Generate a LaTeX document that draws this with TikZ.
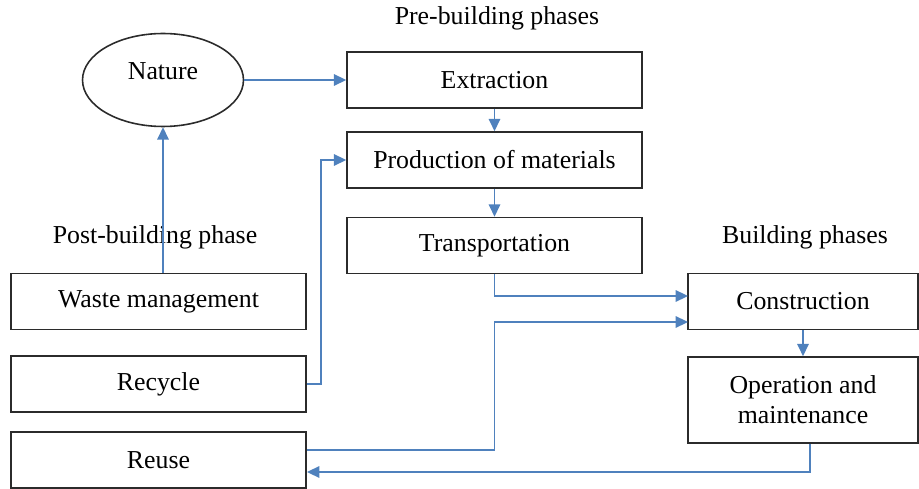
\documentclass[tikz,border=0pt]{standalone}
\usepackage{fontspec}
\setmainfont{Liberation Serif}
\usetikzlibrary{arrows.meta,positioning,shapes.geometric,calc}
\definecolor{flow}{HTML}{4F81BD}
\definecolor{edge}{HTML}{2B2B2B}

\begin{document}
\begin{tikzpicture}[x=0.02cm, y=-0.02cm,
		phase/.style={rectangle, draw=edge, line width=0.9pt,
				minimum width=5.9cm, minimum height=1.12cm,
				font=\fontsize{14.7}{17}\selectfont, align=center,
				inner sep=2pt},
		bphase/.style={phase, minimum width=4.6cm},
		oval/.style={ellipse, draw=edge, line width=0.9pt,
				minimum width=3.22cm, minimum height=1.86cm},
		hdr/.style={font=\fontsize{14.7}{17}\selectfont, align=center},
		arr/.style={-{Triangle[length=7pt, width=6.5pt]}, line width=1pt, flow},
		]
		\useasboundingbox (0,0) rectangle (919,489);

		% ---- Titulos ----
		\node[hdr] (pretitle) at (497, 18) {Pre-building phases};
		\node[hdr] (posttitle) at (155, 237) {Post-building phase};
		\node[hdr] (buildtitle) at (805, 237) {Building phases};

		% ---- Pre-building ----
		\node[oval, label={[hdr, yshift=5pt]center:Nature}] (nature) at (163, 80) {};
		\node[phase] (extr) at (494.5, 80) {Extraction};
		\node[phase] (prod) at (494.5, 160) {Production of materials};
		\node[phase] (trans) at (494.5, 245.5) {Transportation};

		% ---- Post-building ----
		\node[phase] (waste) at (158.5, 301.5) {Waste management};
		\node[phase] (recyc) at (158.5, 384) {Recycle};
		\node[phase] (reuse) at (158.5, 460) {Reuse};

		% ---- Building ----
		\node[bphase] (constr) at (803, 301.5) {Construction};
		\node[bphase, minimum height=1.72cm] (oper) at (803, 400)
		{Operation and\\maintenance};

		% ---- Puntos de entrada ----
		\coordinate (cin1) at (688, 296);
		\coordinate (cin2) at (688, 322);
		\coordinate (rout) at (307, 450);
		\coordinate (rin) at (307, 472);

		% ---- Flechas ----
		\draw[arr] (nature.east) -- (extr.west);
		\draw[arr] (extr.south) -- (prod.north);
		\draw[arr] (prod.south) -- (trans.north);
		\draw[arr] (trans.south) |- (cin1);
		\draw[arr] (constr.south) -- (oper.north);
		\draw[arr] (waste.north -| nature.south) -- (nature.south);
		\draw[arr] (recyc.east) -- ++(14,0) |- (prod.west);
		\draw[arr] (rout) -| (trans.south |- cin2) -- (cin2);
		\draw[arr] ([xshift=4pt]oper.south) |- (rin);

	\end{tikzpicture}
\end{document}
